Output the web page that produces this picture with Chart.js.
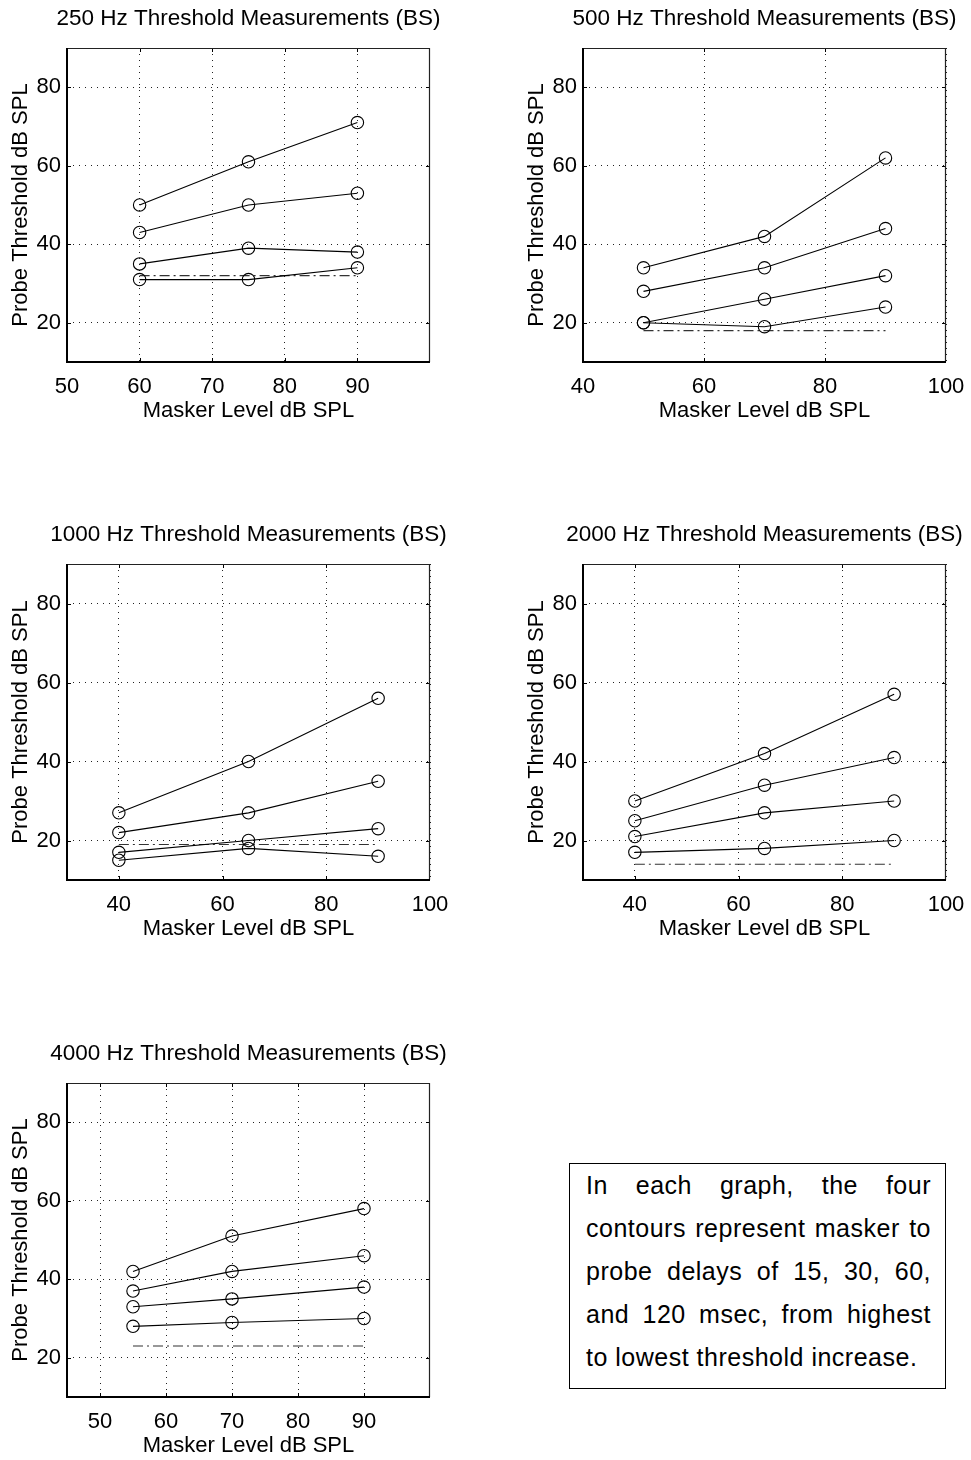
<!DOCTYPE html>
<html>
<head>
<meta charset="utf-8">
<script src="https://cdn.jsdelivr.net/npm/chart.js@4.4.1/dist/chart.umd.min.js"></script>
<style>
  html, body { margin: 0; padding: 0; background: #fff; }
  #page { position: relative; width: 971px; height: 1460px; overflow: hidden;
          font-family: "Liberation Sans", Arial, Helvetica, sans-serif; }
  #page canvas { position: absolute; }
  #note { position: absolute; left: 569px; top: 1163px; width: 377px; height: 226px;
          box-sizing: border-box; border: 1px solid #000; padding: 0 14px 0 16px;
          font-size: 25px; line-height: 43px; letter-spacing: 0.5px; color: #000; }
  #note div { text-align: justify; text-align-last: justify; }
  #note div.last { text-align: left; text-align-last: left; }
</style>
</head>
<body>
<div id="page">
  <canvas id="c250" width="475" height="430" style="left:0px;top:0px"></canvas>
  <canvas id="c500" width="475" height="430" style="left:516px;top:0px"></canvas>
  <canvas id="c1000" width="475" height="432" style="left:0px;top:516px"></canvas>
  <canvas id="c2000" width="475" height="432" style="left:516px;top:516px"></canvas>
  <canvas id="c4000" width="475" height="430" style="left:0px;top:1035px"></canvas>
  <div id="note">
    <div>In each graph, the four</div>
    <div>contours represent masker to</div>
    <div>probe delays of 15, 30, 60,</div>
    <div>and 120 msec, from highest</div>
    <div class="last">to lowest threshold increase.</div>
  </div>
</div>
<script>
// Probe thresholds (dB SPL) at each masker level, one row per masker-probe delay
// (15, 30, 60, 120 ms), plus the unmasked threshold shown as a dash-dot line.

// 250 Hz
const masker250 = [60, 75, 90];
const probe250 = [[50, 61, 71], [43, 50, 53], [35, 39, 38], [31, 31, 34]];
const quiet250 = 32;
const xTicks250 = [50, 60, 70, 80, 90];

// 500 Hz
const masker500 = [50, 70, 90];
const probe500 = [[34, 42, 62], [28, 34, 44], [20, 26, 32], [20, 19, 24]];
const quiet500 = 18;
const xTicks500 = [40, 60, 80, 100];

// 1000 Hz
const masker1000 = [40, 65, 90];
const probe1000 = [[27, 40, 56], [22, 27, 35], [17, 20, 23], [15, 18, 16]];
const quiet1000 = 19;
const xTicks1000 = [40, 60, 80, 100];

// 2000 Hz
const masker2000 = [40, 65, 90];
const probe2000 = [[30, 42, 57], [25, 34, 41], [21, 27, 30], [17, 18, 20]];
const quiet2000 = 14;
const xTicks2000 = [40, 60, 80, 100];

// 4000 Hz
const masker4000 = [55, 70, 90];
const probe4000 = [[42, 51, 58], [37, 42, 46], [33, 35, 38], [28, 29, 30]];
const quiet4000 = 23;
const xTicks4000 = [50, 60, 70, 80, 90];

const yTicks = [20, 40, 60, 80];
const yRange = [10, 90];

const xLabel = 'Masker Level dB SPL';
const yLabel = 'Probe Threshold dB SPL';

// Panel table: data references plus axis extents and plot box height.
const panels = [
  { id: 'c250',  freq: 250,  masker: masker250,  probe: probe250,  quiet: quiet250,  xTicks: xTicks250,  xMin: 50, xMax: 100, plotH: 314 },
  { id: 'c500',  freq: 500,  masker: masker500,  probe: probe500,  quiet: quiet500,  xTicks: xTicks500,  xMin: 40, xMax: 100, plotH: 314 },
  { id: 'c1000', freq: 1000, masker: masker1000, probe: probe1000, quiet: quiet1000, xTicks: xTicks1000, xMin: 30, xMax: 100, plotH: 316 },
  { id: 'c2000', freq: 2000, masker: masker2000, probe: probe2000, quiet: quiet2000, xTicks: xTicks2000, xMin: 30, xMax: 100, plotH: 316 },
  { id: 'c4000', freq: 4000, masker: masker4000, probe: probe4000, quiet: quiet4000, xTicks: xTicks4000, xMin: 45, xMax: 100, plotH: 314 }
];

const FONT = '"Liberation Sans", Arial, Helvetica, sans-serif';
const AXIS_W = 67;     // room for y tick labels and y title
const TITLE_H = 48;    // room for the panel title
const XAXIS_H = 68;    // room for x tick labels and x title
const PLOT_W = 363;

// Panel title, centred over the plot box.
const panelTitlePlugin = {
  id: 'panelTitle',
  afterDraw(chart, args, opts) {
    const { ctx, chartArea: a } = chart;
    ctx.save();
    ctx.fillStyle = '#000';
    ctx.font = '22.5px ' + FONT;
    ctx.textAlign = 'center';
    ctx.textBaseline = 'middle';
    ctx.fillText(opts.text, (a.left + a.right) / 2, a.top - 29);
    ctx.restore();
  }
};

// Axes box with inward tick marks on all four sides.
const framePlugin = {
  id: 'frame',
  afterDraw(chart) {
    const { ctx, chartArea: a, scales: { x, y } } = chart;
    const L = a.left, R = a.right, T = a.top, B = a.bottom;
    const tick = 4;
    ctx.save();
    ctx.strokeStyle = '#000';
    ctx.lineWidth = 1;
    ctx.beginPath();
    x.ticks.forEach(t => {
      const px = Math.round(x.getPixelForValue(t.value)) + 0.5;
      if (px <= L + 1 || px >= R - 1) return;
      ctx.moveTo(px, B); ctx.lineTo(px, B - tick);
      ctx.moveTo(px, T); ctx.lineTo(px, T + tick);
    });
    y.ticks.forEach(t => {
      const py = Math.round(y.getPixelForValue(t.value)) + 0.5;
      if (py <= T + 1 || py >= B - 1) return;
      ctx.moveTo(L, py); ctx.lineTo(L + tick, py);
      ctx.moveTo(R, py); ctx.lineTo(R - tick, py);
    });
    ctx.stroke();
    // top and right edges
    ctx.strokeStyle = '#222';
    ctx.lineWidth = 1.2;
    ctx.beginPath();
    ctx.moveTo(L, T + 0.5); ctx.lineTo(R - 0.5, T + 0.5); ctx.lineTo(R - 0.5, B);
    ctx.stroke();
    // left and bottom edges
    ctx.strokeStyle = '#000';
    ctx.lineWidth = 2;
    ctx.beginPath();
    ctx.moveTo(L, T); ctx.lineTo(L, B); ctx.lineTo(R, B);
    ctx.stroke();
    ctx.restore();
  }
};

function makePanel(p) {
  const canvas = document.getElementById(p.id);
  const datasets = p.probe.map(row => ({
    data: p.masker.map((m, i) => ({ x: m, y: row[i] })),
    borderColor: '#000',
    borderWidth: 1.1,
    pointRadius: 6.2,
    pointStyle: 'circle',
    pointBorderColor: '#000',
    pointBorderWidth: 1.1,
    pointBackgroundColor: 'rgba(0,0,0,0)',
    tension: 0,
    fill: false
  }));
  datasets.push({
    data: [{ x: p.masker[0], y: p.quiet }, { x: p.masker[p.masker.length - 1], y: p.quiet }],
    borderColor: '#333',
    borderWidth: 1.1,
    borderDash: [10, 4, 2, 4],
    pointRadius: 0,
    fill: false
  });

  const gridStyle = { color: '#222', lineWidth: 1, drawTicks: false, drawOnChartArea: true };
  const tickFont = { family: FONT, size: 22 };
  const titleFont = { family: FONT, size: 22, lineHeight: 1 };

  return new Chart(canvas, {
    type: 'line',
    data: { datasets },
    plugins: [framePlugin, panelTitlePlugin],
    options: {
      responsive: false,
      animation: false,
      devicePixelRatio: 1,
      layout: { padding: { left: 0, top: TITLE_H, right: canvas.width - AXIS_W - PLOT_W, bottom: 0 } },
      plugins: {
        legend: { display: false },
        tooltip: { enabled: false },
        title: { display: false },
        panelTitle: { text: p.freq + ' Hz Threshold Measurements (BS)' }
      },
      scales: {
        x: {
          type: 'linear',
          min: p.xMin,
          max: p.xMax,
          afterBuildTicks: s => { s.ticks = p.xTicks.map(v => ({ value: v })); },
          afterFit: s => { s.height = XAXIS_H; },
          ticks: { color: '#000', font: tickFont, padding: 12, maxRotation: 0, autoSkip: false },
          grid: gridStyle,
          border: { display: false, dash: [1, 5] },
          title: { display: true, text: xLabel, color: '#000', font: titleFont, padding: { top: 0, bottom: 8.5 } }
        },
        y: {
          type: 'linear',
          min: yRange[0],
          max: yRange[1],
          afterBuildTicks: s => { s.ticks = yTicks.map(v => ({ value: v })); },
          afterFit: s => { s.width = AXIS_W; },
          ticks: { color: '#000', font: tickFont, padding: 6 },
          grid: gridStyle,
          border: { display: false, dash: [1, 5] },
          title: { display: true, text: yLabel, color: '#000', font: titleFont, padding: { top: 10, bottom: 0 } }
        }
      }
    }
  });
}

panels.forEach(makePanel);
</script>
</body>
</html>
